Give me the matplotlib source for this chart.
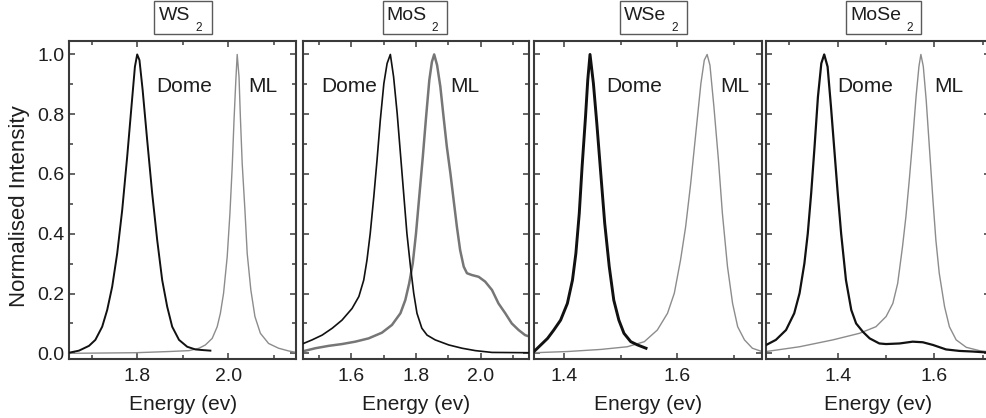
import matplotlib
matplotlib.use("Agg")
import matplotlib.pyplot as plt
import matplotlib.transforms as mtransforms
from matplotlib.patches import Rectangle
from matplotlib.ticker import MultipleLocator, FormatStrFormatter

plt.rcParams['font.family'] = ['Liberation Sans', 'DejaVu Sans']

# ---------------- normalised PL spectra (energy in eV) ----------------
WS2_DOME_E = [1.650, 1.672, 1.694, 1.708, 1.723, 1.734, 1.745, 1.756, 1.767, 1.778,
              1.788, 1.795, 1.800, 1.805, 1.812, 1.822, 1.833, 1.844, 1.855, 1.866,
              1.877, 1.892, 1.910, 1.928, 1.943, 1.961]
WS2_DOME_I = [0.002, 0.009, 0.025, 0.045, 0.089, 0.145, 0.223, 0.334, 0.479, 0.658,
              0.836, 0.959, 1.000, 0.981, 0.881, 0.713, 0.535, 0.379, 0.245, 0.156,
              0.089, 0.045, 0.022, 0.013, 0.011, 0.009]
WS2_ML_E = [1.650, 1.796, 1.870, 1.914, 1.936, 1.950, 1.965, 1.976, 1.983, 1.990,
            1.998, 2.004, 2.009, 2.013, 2.017, 2.020, 2.024, 2.027, 2.031, 2.037,
            2.042, 2.050, 2.059, 2.071, 2.089, 2.111, 2.133, 2.150]
WS2_ML_I = [0.000, 0.002, 0.006, 0.009, 0.017, 0.028, 0.050, 0.089, 0.134, 0.201,
            0.323, 0.468, 0.624, 0.780, 0.914, 1.000, 0.925, 0.790, 0.635, 0.479,
            0.334, 0.212, 0.123, 0.067, 0.033, 0.017, 0.008, 0.003]

MOS2_DOME_E = [1.449, 1.480, 1.511, 1.542, 1.572, 1.603, 1.624, 1.639, 1.649, 1.659,
               1.670, 1.680, 1.690, 1.701, 1.711, 1.721, 1.731, 1.742, 1.752, 1.762,
               1.772, 1.783, 1.793, 1.803, 1.818, 1.834, 1.859, 1.901, 1.942, 1.983,
               2.034, 2.150]
MOS2_DOME_I = [0.031, 0.045, 0.061, 0.084, 0.111, 0.150, 0.190, 0.245, 0.312, 0.401,
               0.524, 0.647, 0.780, 0.903, 0.970, 1.000, 0.925, 0.803, 0.669, 0.535,
               0.401, 0.290, 0.201, 0.134, 0.084, 0.061, 0.045, 0.028, 0.017, 0.009,
               0.003, 0.002]
MOS2_ML_E = [1.449, 1.490, 1.531, 1.572, 1.613, 1.654, 1.695, 1.726, 1.752, 1.767,
             1.779, 1.790, 1.800, 1.810, 1.821, 1.831, 1.841, 1.849, 1.856, 1.865,
             1.875, 1.885, 1.895, 1.906, 1.916, 1.926, 1.936, 1.947, 1.957, 1.972,
             1.993, 2.013, 2.034, 2.054, 2.075, 2.095, 2.116, 2.136, 2.150]
MOS2_ML_I = [0.006, 0.017, 0.025, 0.031, 0.039, 0.050, 0.069, 0.095, 0.134, 0.178,
             0.234, 0.301, 0.401, 0.524, 0.658, 0.790, 0.914, 0.975, 1.000, 0.964,
             0.892, 0.790, 0.691, 0.602, 0.512, 0.423, 0.345, 0.290, 0.268, 0.262,
             0.256, 0.240, 0.212, 0.167, 0.134, 0.100, 0.078, 0.061, 0.056]

WSE2_DOME_E = [1.347, 1.359, 1.371, 1.382, 1.394, 1.406, 1.415, 1.421, 1.427, 1.432,
               1.438, 1.442, 1.446, 1.452, 1.458, 1.465, 1.472, 1.480, 1.488, 1.497,
               1.506, 1.518, 1.530, 1.545]
WSE2_DOME_I = [0.006, 0.028, 0.050, 0.078, 0.111, 0.167, 0.245, 0.334, 0.468, 0.624,
               0.790, 0.914, 1.000, 0.903, 0.770, 0.602, 0.435, 0.290, 0.178, 0.111,
               0.067, 0.039, 0.028, 0.017]
WSE2_ML_E = [1.347, 1.406, 1.465, 1.512, 1.542, 1.565, 1.583, 1.595, 1.606, 1.615,
             1.624, 1.633, 1.642, 1.648, 1.653, 1.658, 1.665, 1.673, 1.680, 1.689,
             1.698, 1.707, 1.719, 1.733, 1.750]
WSE2_ML_I = [0.002, 0.006, 0.013, 0.022, 0.039, 0.078, 0.134, 0.201, 0.312, 0.423,
             0.569, 0.736, 0.903, 0.981, 1.000, 0.964, 0.825, 0.647, 0.468, 0.290,
             0.167, 0.089, 0.045, 0.017, 0.006]

MOSE2_DOME_E = [1.252, 1.272, 1.293, 1.310, 1.321, 1.331, 1.338, 1.345, 1.352, 1.359,
                1.366, 1.372, 1.379, 1.386, 1.393, 1.400, 1.407, 1.417, 1.428, 1.438,
                1.452, 1.466, 1.486, 1.500, 1.528, 1.555, 1.576, 1.597, 1.624, 1.652,
                1.679, 1.707, 1.715]
MOSE2_DOME_I = [0.028, 0.045, 0.078, 0.134, 0.201, 0.301, 0.401, 0.535, 0.691, 0.858,
                0.970, 1.000, 0.959, 0.825, 0.680, 0.535, 0.401, 0.245, 0.145, 0.100,
                0.072, 0.050, 0.033, 0.031, 0.033, 0.039, 0.037, 0.028, 0.013, 0.008,
                0.006, 0.003, 0.003]
MOSE2_ML_E = [1.252, 1.321, 1.390, 1.445, 1.479, 1.500, 1.514, 1.524, 1.534, 1.541,
              1.548, 1.555, 1.562, 1.568, 1.572, 1.577, 1.583, 1.590, 1.597, 1.603,
              1.610, 1.621, 1.631, 1.645, 1.666, 1.693, 1.707, 1.715]
MOSE2_ML_I = [0.006, 0.022, 0.045, 0.067, 0.089, 0.123, 0.167, 0.234, 0.357, 0.457,
              0.580, 0.713, 0.858, 0.960, 1.000, 0.960, 0.847, 0.680, 0.512, 0.379,
              0.268, 0.156, 0.089, 0.045, 0.020, 0.009, 0.006, 0.005]

MATERIALS = ["WS", "MoS", "WSe", "MoSe"]          # formula stems, subscript "2" added
DOME_SERIES = [(WS2_DOME_E, WS2_DOME_I), (MOS2_DOME_E, MOS2_DOME_I),
               (WSE2_DOME_E, WSE2_DOME_I), (MOSE2_DOME_E, MOSE2_DOME_I)]
ML_SERIES = [(WS2_ML_E, WS2_ML_I), (MOS2_ML_E, MOS2_ML_I),
             (WSE2_ML_E, WSE2_ML_I), (MOSE2_ML_E, MOSE2_ML_I)]
X_LIMITS = [(1.65, 2.15), (1.451, 2.149), (1.347, 1.75), (1.2526, 1.715)]
Y_LIMITS = (-0.019, 1.045)

# ---------------- layout (pixels on a 987 x 418 canvas) ----------------
W, H = 987, 418
AX_TOP, AX_BOTTOM = 41, 359
AX_SPANS = [(69, 296.3), (302.7, 529.3), (534, 762), (766.5, 990)]
TITLE_BOX_CENTRE = [183.3, 415, 653.3, 884]
TITLE_BOX_WIDTH = [58, 63.4, 66.7, 75]
DOME_LABEL_X = [1.842, 1.509, 1.474, 1.400]
ML_LABEL_X = [2.045, 1.906, 1.6755, 1.599]
DOME_LW = [1.4, 1.2, 2.1, 1.6]
ML_LW = [1.0, 1.8, 1.0, 1.0]
ML_COLOR = ['#8c8c8c', '#767676', '#8c8c8c', '#8c8c8c']

SPINE_C = '#3a3a3a'
TEXT_C = '#1e1e1e'

fig = plt.figure(figsize=(W / 100, H / 100), dpi=100)

for k in range(4):
    left, right = AX_SPANS[k]
    ax = fig.add_axes([left / W, (H - AX_BOTTOM) / H,
                       (right - left) / W, (AX_BOTTOM - AX_TOP) / H])

    e, i = ML_SERIES[k]
    ax.plot(e, i, color=ML_COLOR[k], lw=ML_LW[k], solid_joinstyle='round', zorder=2)
    e, i = DOME_SERIES[k]
    ax.plot(e, i, color='#111111', lw=DOME_LW[k], solid_joinstyle='round', zorder=3)

    ax.set_xlim(*X_LIMITS[k])
    ax.set_ylim(*Y_LIMITS)

    ax.xaxis.set_major_locator(MultipleLocator(0.2))
    ax.xaxis.set_minor_locator(MultipleLocator(0.1))
    ax.yaxis.set_major_locator(MultipleLocator(0.2))
    ax.yaxis.set_minor_locator(MultipleLocator(0.1))
    ax.xaxis.set_major_formatter(FormatStrFormatter('%.1f'))
    ax.yaxis.set_major_formatter(FormatStrFormatter('%.1f'))

    for sp in ax.spines.values():
        sp.set_color(SPINE_C)
        sp.set_linewidth(1.5)
    ax.tick_params(which='both', direction='in', top=True, right=True,
                   color=SPINE_C, width=1.1, labelcolor=TEXT_C, labelsize=14)
    ax.tick_params(which='major', length=4.2)
    ax.tick_params(which='minor', length=2.6)
    ax.tick_params(axis='x', which='major', pad=6.5)
    ax.tick_params(axis='y', which='major', pad=3)
    if k > 0:
        ax.tick_params(axis='y', labelleft=False)

    ax.text(DOME_LABEL_X[k], 0.875, "Dome", fontsize=15, color=TEXT_C,
            ha='left', va='baseline')
    ax.text(ML_LABEL_X[k], 0.875, "ML", fontsize=15, color=TEXT_C,
            ha='left', va='baseline')

    # x-axis title under each panel
    tr = mtransforms.blended_transform_factory(ax.transAxes, fig.transFigure)
    ax.text(0.5, (H - 409.5) / H, "Energy (ev)", transform=tr, fontsize=15,
            color=TEXT_C, ha='center', va='baseline')

    # boxed material name above each panel
    cx, bw = TITLE_BOX_CENTRE[k], TITLE_BOX_WIDTH[k]
    fig.patches.append(Rectangle(((cx - bw / 2) / W, (H - 33.5) / H), bw / W, 32.5 / H,
                                 transform=fig.transFigure, fill=False,
                                 edgecolor='#5a5a5a', lw=1.0))
    stem = fig.text((cx - 8.5) / W, (H - 20.5) / H, MATERIALS[k], fontsize=14,
                    color=TEXT_C, ha='center', va='baseline')
    ax.annotate("2", xy=(1, 0), xycoords=stem, xytext=(3.8, -4.5),
                textcoords='offset points', fontsize=8.5, color=TEXT_C,
                ha='left', va='baseline', annotation_clip=False)

fig.text(20 / W, (H - 206) / H, "Normalised Intensity", rotation=90, fontsize=16,
         color=TEXT_C, ha='center', va='center')

fig.savefig("out.png", dpi=100)
